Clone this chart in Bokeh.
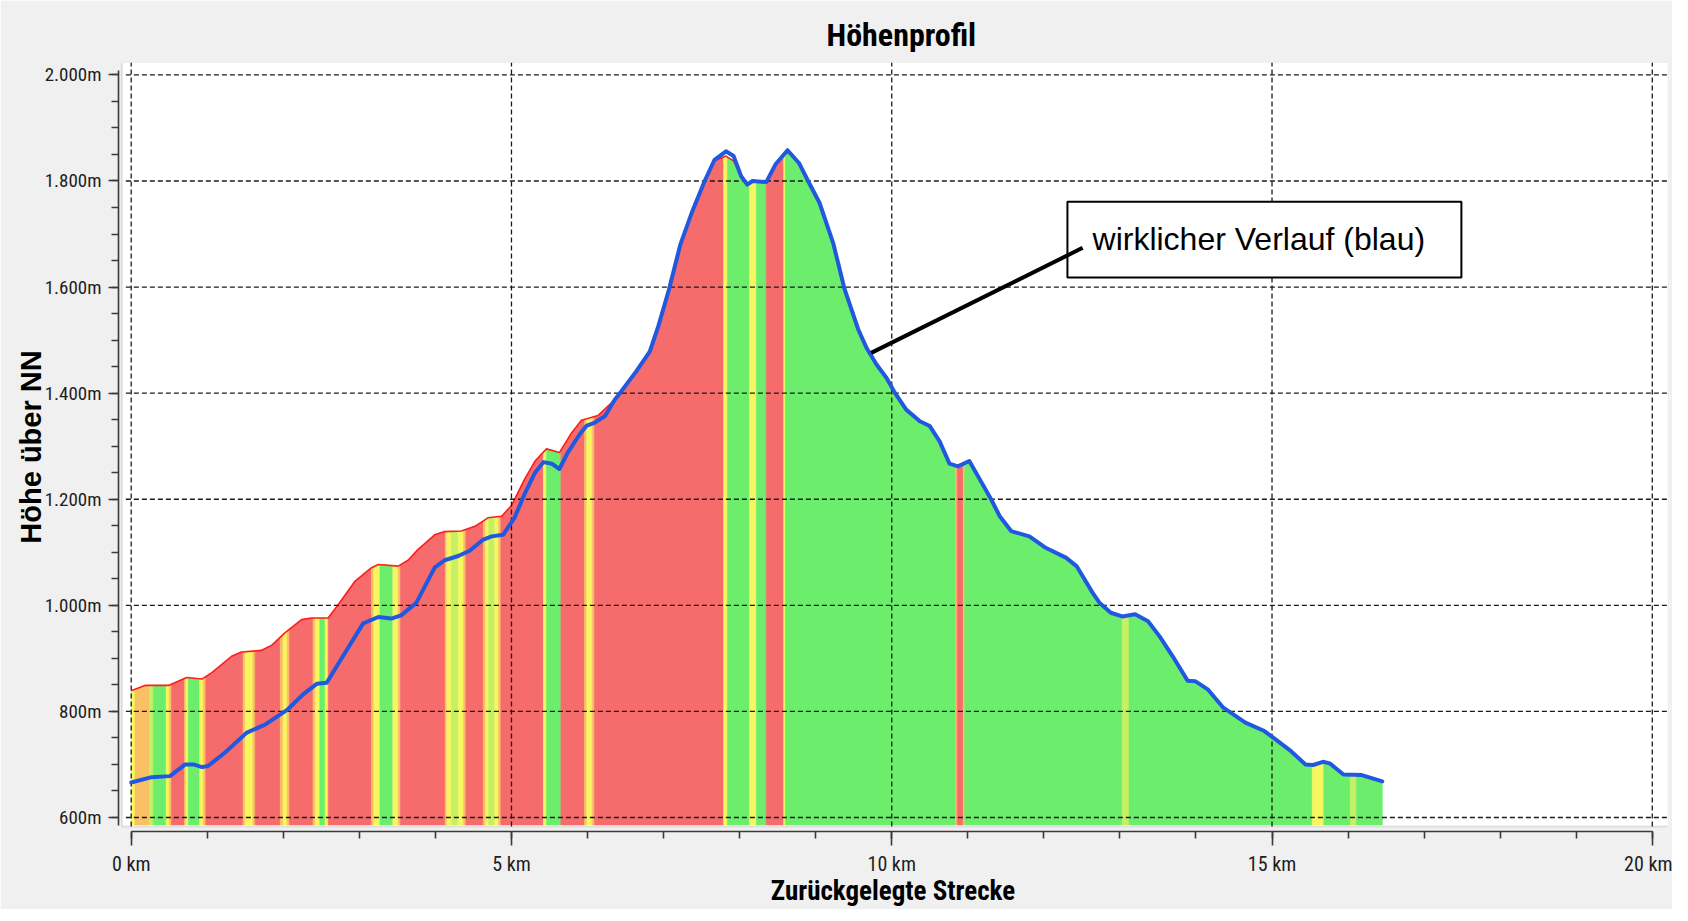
import numpy as np
from bokeh.plotting import figure
from bokeh.models import Range1d, FixedTicker, BoxAnnotation, ColumnDataSource
from bokeh.core.properties import value
from bokeh.embed import file_html
from bokeh.resources import INLINE

# ---------------- data ----------------
# planned profile (top of the coloured area, red outline)
profile_km = [0, 0.18, 0.49, 0.73, 0.93, 1.06, 1.32, 1.45, 1.71, 1.85, 2.02, 2.24, 2.37, 2.59,
              2.74, 2.94, 3.16, 3.25, 3.51, 3.64, 3.77, 3.99, 4.12, 4.34, 4.52, 4.69, 4.87,
              5.00, 5.17, 5.31, 5.46, 5.63, 5.79, 5.92, 6.14, 6.36, 6.42, 6.64, 6.82, 6.93,
              7.07, 7.22, 7.37, 7.54, 7.67, 7.82, 7.92, 8.02, 8.10, 8.17, 8.35, 8.47, 8.63,
              8.78, 8.90, 9.05, 9.23, 9.38, 9.56, 9.67, 9.80, 9.93, 10.04, 10.19, 10.37,
              10.50, 10.63, 10.76, 10.87, 11.02, 11.16, 11.31, 11.42, 11.57, 11.81, 12.03,
              12.29, 12.43, 12.64, 12.73, 12.88, 13.03, 13.20, 13.37, 13.52, 13.72, 13.89,
              13.99, 14.16, 14.36, 14.65, 14.90, 15.02, 15.25, 15.44, 15.54, 15.67, 15.76,
              15.94, 16.18, 16.45]
profile_m = [839, 849, 849, 864, 861, 873, 904, 912, 915, 925, 948, 973, 976, 976,
             1005, 1045, 1071, 1077, 1074, 1085, 1105, 1133, 1139, 1140, 1149, 1165, 1168,
             1188, 1237, 1272, 1295, 1288, 1325, 1349, 1358, 1388, 1399, 1441, 1479, 1526,
             1595, 1680, 1740, 1800, 1838, 1847, 1838, 1809, 1793, 1800, 1798, 1831, 1858,
             1834, 1800, 1759, 1683, 1596, 1520, 1485, 1454, 1429, 1401, 1369, 1347,
             1338, 1309, 1267, 1262, 1272, 1237, 1199, 1168, 1140, 1130, 1108,
             1090, 1074, 1024, 1005, 986, 979, 983, 970, 942, 898, 858,
             857, 841, 807, 779, 763, 750, 725, 700, 699, 705, 702,
             681, 680, 668]

# actual course (blue line)
real_km = [0, 0.27, 0.51, 0.71, 0.82, 0.93, 1.01, 1.23, 1.52, 1.76, 2.06, 2.26, 2.44, 2.57,
           2.81, 3.05, 3.25, 3.42, 3.55, 3.75, 3.99, 4.12, 4.30, 4.45, 4.63, 4.74, 4.89,
           5.04, 5.17, 5.31, 5.42, 5.53, 5.63, 5.74, 5.90, 5.99, 6.09, 6.23, 6.36, 6.42,
           6.64, 6.82, 6.93, 7.07, 7.22, 7.37, 7.54, 7.67, 7.82, 7.92, 8.02, 8.10, 8.17,
           8.35, 8.47, 8.63, 8.78, 8.90, 9.05, 9.23, 9.38, 9.56, 9.67, 9.80, 9.93, 10.04,
           10.19, 10.37, 10.50, 10.63, 10.76, 10.87, 11.02, 11.16, 11.31, 11.42, 11.57,
           11.81, 12.03, 12.29, 12.43, 12.64, 12.73, 12.88, 13.03, 13.20, 13.37, 13.52,
           13.72, 13.89, 13.99, 14.16, 14.36, 14.65, 14.90, 15.02, 15.25, 15.44, 15.54,
           15.67, 15.76, 15.94, 16.18, 16.45]
real_m = [666, 676, 678, 700, 700, 695, 697, 722, 760, 775, 804, 832, 852, 854,
          910, 966, 978, 975, 981, 1005, 1071, 1085, 1093, 1103, 1124, 1130, 1133,
          1165, 1209, 1250, 1270, 1267, 1257, 1288, 1323, 1339, 1344, 1357, 1388, 1399,
          1441, 1479, 1526, 1595, 1680, 1740, 1800, 1840, 1856, 1847, 1809, 1793, 1800,
          1798, 1831, 1858, 1834, 1800, 1759, 1683, 1596, 1520, 1485, 1454, 1429, 1401,
          1369, 1347, 1338, 1309, 1267, 1262, 1272, 1237, 1199, 1168, 1140,
          1130, 1108, 1090, 1074, 1024, 1005, 986, 979, 983, 970, 942,
          898, 858, 857, 841, 807, 779, 763, 750, 725, 700, 699,
          705, 702, 681, 680, 668]

# gradient stripes: start km and class (R red, O orange, Y yellow, L lime, G green)
stripe_start_km = [0.00, 0.05, 0.24, 0.29, 0.46, 0.50, 0.53, 0.70, 0.72, 0.75, 0.90, 0.95,
                   0.98, 1.47, 1.50, 1.60, 1.63, 1.96, 2.00, 2.05, 2.08, 2.39, 2.42, 2.48,
                   2.55, 2.59, 3.16, 3.19, 3.27, 3.44, 3.51, 3.54, 4.13, 4.15, 4.21, 4.30,
                   4.37, 4.40, 4.63, 4.66, 4.70, 4.78, 4.83, 4.86, 5.42, 5.46, 5.65, 5.96,
                   5.99, 6.06, 6.09, 7.79, 7.84, 8.13, 8.22, 8.35, 8.58, 8.60, 10.84, 10.86,
                   10.94, 10.96, 13.03, 13.12, 15.53, 15.68, 16.03, 16.11]
stripe_class = ["Y", "O", "L", "G", "Y", "O", "R", "O", "Y", "G", "Y", "O",
                "R", "O", "Y", "O", "R", "O", "Y", "O", "R", "O", "Y", "G",
                "Y", "R", "O", "Y", "G", "Y", "O", "R", "O", "Y", "L", "Y",
                "O", "R", "O", "Y", "L", "Y", "O", "R", "Y", "G", "R", "O",
                "Y", "O", "R", "Y", "G", "Y", "G", "R", "Y", "G", "O", "R",
                "O", "G", "L", "G", "Y", "G", "L", "G"]
route_end_km = 16.45

x_ticks = [0, 5, 10, 15, 20]
x_tick_labels = ["0 km", "5 km", "10 km", "15 km", "20 km"]
y_ticks = [600, 800, 1000, 1200, 1400, 1600, 1800, 2000]
y_tick_labels = ["600m", "800m", "1.000m", "1.200m", "1.400m", "1.600m", "1.800m", "2.000m"]

annotation_text = "wirklicher Verlauf (blau)"

# ---------------- styling constants ----------------
PALETTE = {"R": "#f66b6b", "O": "#f9c064", "Y": "#f6f660", "L": "#c6f064", "G": "#6cee6c"}
NARROW = "Roboto Condensed"
X_MIN, X_MAX = -0.167, 20.2
Y_MIN, Y_MAX = 573.6, 2023.4
WHITE_LEFT, WHITE_BOTTOM = -0.122, 583.0
FILL_BASE = 586.0

p = figure(output_backend="svg", toolbar_location=None,
           frame_width=1549, frame_height=769,
           min_border_left=118, min_border_right=5, min_border_top=62, min_border_bottom=74,
           x_range=Range1d(X_MIN, X_MAX), y_range=Range1d(Y_MIN, Y_MAX),
           background_fill_color="#f0f0f0", border_fill_color="#f0f0f0")
p.outline_line_color = None
p.xgrid.visible = False
p.ygrid.visible = False

# outer window border (canvas units)
p.add_layout(BoxAnnotation(left=5, right=3000, top=4, bottom=3000,
                           left_units="canvas", right_units="canvas",
                           top_units="canvas", bottom_units="canvas",
                           fill_alpha=0, line_color="#a4a4a4", line_width=3,
                           level="overlay"))

# white plotting area
p.add_layout(BoxAnnotation(left=WHITE_LEFT, right=X_MAX + 1, bottom=WHITE_BOTTOM, top=Y_MAX + 1,
                           fill_color="white", fill_alpha=1.0, line_color="#a9a9a9",
                           line_width=2, level="underlay"))

# coloured stripes under the profile
px = np.array(profile_km, dtype=float)
py = np.array(profile_m, dtype=float)
edges = stripe_start_km + [route_end_km]
xs, ys, cs = [], [], []
for i, cls in enumerate(stripe_class):
    a, b = edges[i], edges[i + 1]
    inner = px[(px > a) & (px < b)]
    top_x = np.concatenate([[a], inner, [b]])
    top_y = np.interp(top_x, px, py)
    xs.append(list(top_x) + [b, a])
    ys.append(list(top_y) + [FILL_BASE, FILL_BASE])
    cs.append(PALETTE[cls])
p.patches("xs", "ys", source=ColumnDataSource(dict(xs=xs, ys=ys, c=cs)),
          fill_color="c", line_color="c", line_width=0.6)

# red outline of planned profile
p.line(profile_km, profile_m, line_color="#ff1e1e", line_width=1.6)

# dashed grid
p.segment(x0=x_ticks, y0=[WHITE_BOTTOM] * len(x_ticks), x1=x_ticks, y1=[Y_MAX] * len(x_ticks),
          line_color="#1a1a1a", line_width=1.3, line_dash="5 3")
p.segment(x0=[-0.07] * len(y_ticks), y0=y_ticks, x1=[X_MAX] * len(y_ticks), y1=y_ticks,
          line_color="#1a1a1a", line_width=1.3, line_dash="5 3")

# blue actual course
p.line(real_km, real_m, line_color="#2058e0", line_width=4, line_join="round", line_cap="round")

# annotation box with leader line
p.quad(left=[12.31], right=[17.49], bottom=[1618], top=[1761],
       fill_color="white", line_color="black", line_width=2)
p.line([9.73, 12.51], [1476, 1674], line_color="black", line_width=4)
p.text(x=[12.64], y=[1690], text=[annotation_text], text_font=value("Liberation Sans"),
       text_font_size="32px", text_baseline="middle", text_align="left", text_color="black")

# axes
p.xaxis.ticker = FixedTicker(ticks=x_ticks, minor_ticks=list(range(0, 21)))
p.xaxis.major_label_overrides = {t: l for t, l in zip(x_ticks, x_tick_labels)}
p.xaxis.bounds = (0, 20)
p.yaxis.ticker = FixedTicker(ticks=y_ticks, minor_ticks=list(range(600, 2001, 50)))
p.yaxis.major_label_overrides = {t: l for t, l in zip(y_ticks, y_tick_labels)}
p.yaxis.bounds = (585, 2008)

for ax in (p.xaxis[0], p.yaxis[0]):
    ax.axis_line_color = "#3a3a3a"
    ax.axis_line_width = 1.6
    ax.major_tick_line_color = "#3a3a3a"
    ax.major_tick_line_width = 1.6
    ax.minor_tick_line_color = "#3a3a3a"
    ax.minor_tick_line_width = 1.6
    ax.major_tick_in = 0
    ax.minor_tick_in = 0
    ax.major_label_text_font = NARROW
    ax.major_label_text_color = "#1e1e1e"
    ax.axis_label_text_font_style = "bold"
    ax.axis_label_text_color = "black"

p.xaxis.major_label_text_font_size = "20px"
p.yaxis.major_label_text_font_size = "19px"

p.xaxis.major_tick_out = 14
p.xaxis.minor_tick_out = 7
p.xaxis.major_label_standoff = 6
p.xaxis.axis_label = "Zurückgelegte Strecke"
p.xaxis.axis_label_text_font = NARROW
p.xaxis.axis_label_text_font_size = "27px"
p.xaxis.axis_label_standoff = -4

p.yaxis.major_tick_out = 10
p.yaxis.minor_tick_out = 7
p.yaxis.major_label_standoff = 7
p.yaxis.axis_label = "Höhe über NN"
p.yaxis.axis_label_text_font = "Liberation Sans"
p.yaxis.axis_label_text_font_size = "29px"
p.yaxis.axis_label_standoff = -5

p.title.text = "Höhenprofil"
p.title.align = "left"
p.title.offset = 708
p.title.standoff = 17
p.title.text_font = NARROW
p.title.text_font_size = "32px"
p.title.text_font_style = "bold"
p.title.text_color = "black"

open("out.html", "w").write(file_html(p, INLINE))
